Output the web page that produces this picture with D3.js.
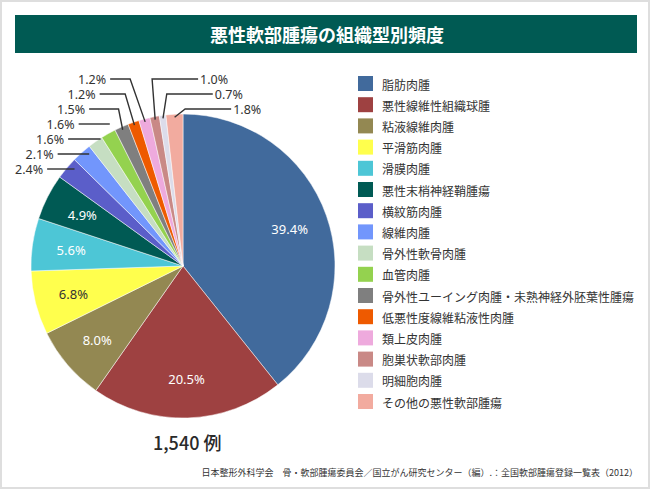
<!DOCTYPE html>
<html lang="ja">
<head>
<meta charset="utf-8">
<script src="https://cdn.jsdelivr.net/npm/d3@7/dist/d3.min.js"></script>
<style>
    html, body { margin: 0; padding: 0; background: #fff; }
    svg { display: block; }
</style>
</head>
<body>
<div id="chart"></div>
<script>
// chart data
const titleText = "悪性軟部腫瘍の組織型別頻度";
const totalText = "1,540 例";
const sourceText = "日本整形外科学会　骨・軟部腫瘍委員会／国立がん研究センター（編）.：全国軟部腫瘍登録一覧表（2012）";

const categories = [
    "脂肪肉腫",
    "悪性線維性組織球腫",
    "粘液線維肉腫",
    "平滑筋肉腫",
    "滑膜肉腫",
    "悪性末梢神経鞘腫瘍",
    "横紋筋肉腫",
    "線維肉腫",
    "骨外性軟骨肉腫",
    "血管肉腫",
    "骨外性ユーイング肉腫・未熟神経外胚葉性腫瘍",
    "低悪性度線維粘液性肉腫",
    "類上皮肉腫",
    "胞巣状軟部肉腫",
    "明細胞肉腫",
    "その他の悪性軟部腫瘍"
];

// percent of cases
const shares = [39.4, 20.5, 8.0, 6.8, 5.6, 4.9, 2.4, 2.1, 1.6, 1.6, 1.5, 1.2, 1.2, 1.0, 0.7, 1.8];

const sliceColors = [
    "#416a9c", "#9e4141", "#938852", "#ffff4d",
    "#4dc6d6", "#005a54", "#5b5ec9", "#7296fc",
    "#c6dec2", "#94d24f", "#7f7f7f", "#ee5a00",
    "#eeaadd", "#c98986", "#dcdcea", "#f2ab9f"
];

const width = 650, height = 489;
const cx = 183, cy = 266, radius = 152;
const fontJP = "'Noto Sans CJK JP', 'Noto Sans', sans-serif";
const fontNum = "'Noto Sans', 'Open Sans', sans-serif";

const svg = d3.select("#chart")
    .append("svg")
        .attr("width", width)
        .attr("height", height);

//frame
svg.append("rect")
    .attr("x", 1).attr("y", 1)
    .attr("width", width - 2).attr("height", height - 2)
    .attr("fill", "#fff")
    .attr("stroke", "#dedede")
    .attr("stroke-width", 2);

//title bar
svg.append("rect")
    .attr("x", 15).attr("y", 15)
    .attr("width", 622).attr("height", 38)
    .attr("fill", "#005a53");

svg.append("text")
    .attr("x", 327).attr("y", 34)
    .attr("text-anchor", "middle")
    .attr("dominant-baseline", "central")
    .attr("fill", "#fff")
    .attr("font-family", fontJP)
    .attr("font-weight", "bold")
    .attr("font-size", 18)
    .text(titleText);

// pie
const pie = d3.pie().sort(null).value(d => d.value);
const arcs = pie(shares.map((v, i) => ({ value: v, name: categories[i], color: sliceColors[i] })));

const arc = d3.arc().innerRadius(0).outerRadius(radius);
const inLabelArc = d3.arc().innerRadius(113).outerRadius(113);
const edgeArc = d3.arc().innerRadius(radius - 3).outerRadius(radius - 3);

const pieGroup = svg.append("g")
    .attr("transform", `translate(${cx}, ${cy})`);

pieGroup.selectAll("path")
    .data(arcs)
    .join("path")
        .attr("d", arc)
        .attr("fill", d => d.data.color)
        .attr("stroke", "#fff")
        .attr("stroke-width", 0.5);

// labels inside the big slices
pieGroup.selectAll("text.inside")
    .data(arcs.filter(d => d.data.value >= 3))
    .join("text")
        .attr("class", "inside")
        .attr("transform", d => `translate(${inLabelArc.centroid(d)})`)
        .attr("text-anchor", "middle")
        .attr("dominant-baseline", "central")
        .attr("font-family", fontNum)
        .attr("font-size", 13)
        .attr("fill", d => d.data.color === "#ffff4d" ? "#333" : "#fff")
        .text(d => d.data.value.toFixed(1) + "%");

// outside labels for the small slices, stacked above the pie
const small = arcs.filter(d => d.data.value < 3);
const midAngle = d => (d.startAngle + d.endAngle) / 2;
const rightSide = small.filter(d => midAngle(d) > Math.PI * 2 * 0.965);
const leftSide = small.filter(d => midAngle(d) <= Math.PI * 2 * 0.965);
const rowTop = 79, rowStep = 15;

const outLabels = [];
let topElbow = null;
// left side: walk from the top label down so the label column slants
leftSide.slice().reverse().forEach((d, i) => {
    const [ex, ey] = edgeArc.centroid(d);
    const ly = rowTop + i * rowStep - cy;
    const bx = ex + 6 - 0.49 * (ey - ly);
    if(topElbow === null) topElbow = bx;
    const tx = topElbow - 24 - 0.7 * i * rowStep;
    const pts = [[tx + 4, ly], [bx, ly]];
    //only bend when the slice edge lies beyond the elbow
    if(bx <= ex) pts.push([ex, ey]);
    outLabels.push({ d: d, pts: pts, ly: ly, tx: tx, anchor: "end" });
});
rightSide.forEach((d, i) => {
    const [ex, ey] = edgeArc.centroid(d);
    const ly = rowTop + i * rowStep - cy;
    const bx = ex + 14 - 0.42 * (ey - ly);
    outLabels.push({ d: d, pts: [[bx + 46, ly], [bx, ly], [ex, ey]], ly: ly, tx: bx + 48, anchor: "start" });
});

pieGroup.selectAll("path.leader")
    .data(outLabels)
    .join("path")
        .attr("class", "leader")
        .attr("d", o => d3.line()(o.pts))
        .attr("fill", "none")
        .attr("stroke", "#333")
        .attr("stroke-width", 1.4);

pieGroup.selectAll("text.outside")
    .data(outLabels)
    .join("text")
        .attr("class", "outside")
        .attr("x", o => o.tx)
        .attr("y", o => o.ly)
        .attr("text-anchor", o => o.anchor)
        .attr("dominant-baseline", "central")
        .attr("font-family", fontNum)
        .attr("font-size", 12.5)
        .attr("fill", "#333")
        .text(o => o.d.data.value.toFixed(1) + "%");

// legend
const legendX = 358, legendY = 76, legendStep = 21.2;
const legend = svg.append("g")
    .attr("transform", `translate(${legendX}, ${legendY})`);

const rows = legend.selectAll("g")
    .data(categories)
    .join("g")
        .attr("transform", (d, i) => `translate(0, ${i * legendStep})`);

rows.append("rect")
    .attr("width", 15).attr("height", 15)
    .attr("fill", (d, i) => sliceColors[i]);

rows.append("text")
    .attr("x", 24).attr("y", 8)
    .attr("dominant-baseline", "central")
    .attr("font-family", fontJP)
    .attr("font-size", 12)
    .attr("fill", "#333")
    .text(d => d);

// totals and source
svg.append("text")
    .attr("x", 153).attr("y", 442)
    .attr("dominant-baseline", "central")
    .attr("font-family", fontJP)
    .attr("font-size", 18)
    .attr("font-weight", 500)
    .attr("fill", "#2a2a2a")
    .text(totalText);

svg.append("text")
    .attr("x", 638).attr("y", 472)
    .attr("text-anchor", "end")
    .attr("dominant-baseline", "central")
    .attr("font-family", fontJP)
    .attr("font-size", 9)
    .attr("fill", "#333")
    .text(sourceText);
</script>
</body>
</html>
